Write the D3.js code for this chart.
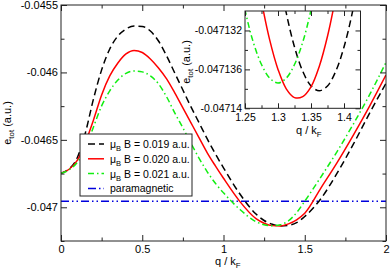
<!DOCTYPE html>
<html>
<head>
<meta charset="utf-8">
<script src="https://cdn.jsdelivr.net/npm/d3@7"></script>
<style>
body { margin: 0; background: #fff; }
svg { display: block; font-family: "Liberation Sans", Arial, sans-serif; }
</style>
</head>
<body>
<svg id="chart" width="390" height="272"></svg>
<script>
// q / k_F grid of the main panel
const qGrid = [0, 0.05, 0.1, 0.15, 0.2, 0.25, 0.3, 0.35, 0.4, 0.45, 0.5, 0.55, 0.6, 0.65, 0.7, 0.75,
    0.8, 0.85, 0.9, 0.95, 1.0, 1.1, 1.2, 1.25, 1.3, 1.35, 1.4, 1.45, 1.5, 1.6, 1.7, 1.8, 1.9, 2.0];

// e_tot (a.u.), one array per field
const eB019 = [-0.046747, -0.046715, -0.046633, -0.046448, -0.046196, -0.045981, -0.045826, -0.045730,
    -0.045678, -0.045656, -0.045659, -0.045693, -0.045767, -0.045878, -0.046004, -0.046130, -0.046256,
    -0.046374, -0.046493, -0.046604, -0.046707, -0.046900, -0.047050, -0.047098, -0.047126, -0.047138,
    -0.047134, -0.047114, -0.047068, -0.046935, -0.046745, -0.046530, -0.046300, -0.046080];
const eB020 = [-0.046747, -0.046718, -0.046652, -0.046519, -0.046352, -0.046167, -0.046026, -0.045930,
    -0.045863, -0.045837, -0.045852, -0.045900, -0.045967, -0.046048, -0.046152, -0.046263, -0.046374,
    -0.046485, -0.046596, -0.046693, -0.046785, -0.046956, -0.047084, -0.047118, -0.047136, -0.047138,
    -0.047123, -0.047093, -0.047045, -0.046856, -0.046667, -0.046463, -0.046248, -0.046019];
const eB021 = [-0.046747, -0.046722, -0.046667, -0.046563, -0.046404, -0.046248, -0.046137, -0.046056,
    -0.046007, -0.045989, -0.045996, -0.046026, -0.046085, -0.046181, -0.046300, -0.046411, -0.046526,
    -0.046637, -0.046737, -0.046822, -0.046893, -0.047015, -0.047107, -0.047130, -0.047137, -0.047130,
    -0.047100, -0.047040, -0.046955, -0.046774, -0.046585, -0.046381, -0.046163, -0.045926];
const eParamagnetic = -0.046955;

// inset: zoom on the minimum
const insetQ = [1.2375, 1.25, 1.2625, 1.275, 1.2875, 1.3, 1.3125, 1.325, 1.3375, 1.35, 1.3625,
    1.375, 1.3875, 1.4, 1.4125, 1.425, 1.4375];
const insetB019 = [-0.0470882, -0.0470977, -0.0471062, -0.0471137, -0.0471202, -0.0471257, -0.0471302,
    -0.0471337, -0.0471362, -0.0471377, -0.0471382, -0.0471377, -0.0471362, -0.0471337, -0.0471302,
    -0.0471257, -0.0471202];
const insetB020 = [-0.0471111, -0.0471181, -0.0471241, -0.0471290, -0.0471330, -0.0471360, -0.0471380,
    -0.0471389, -0.0471388, -0.0471378, -0.0471357, -0.0471326, -0.0471285, -0.0471234, -0.0471173,
    -0.0471102, -0.0471020];
const insetB021 = [-0.0471257, -0.0471299, -0.0471332, -0.0471355, -0.0471369, -0.0471374, -0.0471369,
    -0.0471355, -0.0471332, -0.0471299, -0.0471257, -0.0471205, -0.0471144, -0.0471074, -0.0470994,
    -0.0470905, -0.0470807];

const fieldLabels = ["0.019", "0.020", "0.021"];

const xTicks = [0, 0.5, 1, 1.5, 2];
const xMinor = [0.25, 0.75, 1.25, 1.75];
const yTicks = [-0.047, -0.0465, -0.046, -0.0455];
const yMinor = [-0.04725, -0.04675, -0.04625, -0.04575];
const insetXTicks = [1.25, 1.3, 1.35, 1.4];
const insetXMinor = [1.275, 1.325, 1.375];
const insetYTicks = [-0.04714, -0.047136, -0.047132];
const insetYMinor = [-0.047138, -0.047134];

const styles = [
    { color: "#000000", dash: "7,4" },
    { color: "#ff0000", dash: null },
    { color: "#11ee11", dash: "6,3,1.5,3" }
];
const paraStyle = { color: "#0000dd", dash: "8,3,1.5,3,1.5,3" };

const svg = d3.select("#chart");

function drawAxes(g, x, y, o) {
    const [x0, x1] = x.range();
    const [y0, y1] = y.range();
    const sides = [
        [d3.axisBottom, x, `translate(0,${y0})`, o.xTicks, o.xMinor, true, o.padX],
        [d3.axisTop, x, `translate(0,${y1})`, o.xTicks, o.xMinor, false, 0],
        [d3.axisLeft, y, `translate(${x0},0)`, o.yTicks, o.yMinor, true, o.padY],
        [d3.axisRight, y, `translate(${x1},0)`, o.yTicks, o.yMinor, false, 0]
    ];
    sides.forEach(([make, s, tr, maj, min, labels, pad]) => {
        const a = g.append("g").attr("transform", tr);
        a.call(make(s).tickValues(maj).tickSize(-o.major).tickPadding(pad)
            .tickFormat(labels ? (d => String(d)) : ""));
        a.append("g").call(make(s).tickValues(min).tickSize(-o.minor).tickFormat(""));
        a.selectAll(".domain").remove();
        a.selectAll("line").attr("stroke", "#222");
        a.attr("font-size", o.fontSize).attr("font-family", null);
        a.selectAll("text").attr("fill", "#000");
    });
    g.append("rect")
        .attr("x", x0).attr("y", y1).attr("width", x1 - x0).attr("height", y0 - y1)
        .attr("fill", "none").attr("stroke", "#222").attr("stroke-width", 1);
}

function subLabel(g, parts, attrs) {
    const t = g.append("text").attr("font-size", attrs.size).attr("fill", "#000");
    Object.entries(attrs.at).forEach(([k, v]) => t.attr(k, v));
    parts.forEach(([txt, sub]) => {
        const sp = t.append("tspan").text(txt);
        if (sub) sp.attr("font-size", attrs.size * 0.72).attr("dy", 3);
        else if (t.selectAll("tspan").size() > 1) sp.attr("dy", -3);
    });
    return t;
}

// ---- main panel ----
const x = d3.scaleLinear().domain([0, 2]).range([61, 386]);
const y = d3.scaleLinear().domain([-0.04725, -0.0455]).range([241, 5]);

svg.append("clipPath").attr("id", "clipMain")
    .append("rect").attr("x", 61).attr("y", 5).attr("width", 325).attr("height", 236);

const main = svg.append("g");
const plot = main.append("g").attr("clip-path", "url(#clipMain)");

const line = d3.line().x(d => x(d[0])).y(d => y(d[1])).curve(d3.curveMonotoneX);

plot.append("line")
    .attr("x1", x(0)).attr("x2", x(2)).attr("y1", y(eParamagnetic)).attr("y2", y(eParamagnetic))
    .attr("stroke", paraStyle.color).attr("stroke-width", 1.5).attr("stroke-dasharray", paraStyle.dash);

[eB019, eB020, eB021].forEach((vals, i) => {
    plot.append("path")
        .datum(qGrid.map((q, j) => [q, vals[j]]))
        .attr("d", line)
        .attr("fill", "none")
        .attr("stroke", styles[i].color)
        .attr("stroke-width", 1.5)
        .attr("stroke-dasharray", styles[i].dash);
});

drawAxes(main, x, y, {
    xTicks, xMinor, yTicks, yMinor, major: 6, minor: 3.5, padX: 4, padY: 3, fontSize: 11
});

subLabel(main, [["q / k"], ["F", true]], { size: 11, at: { x: 215, y: 265 } });
subLabel(main, [["e"], ["tot", true], [" (a.u.)"]],
    { size: 11, at: { transform: "translate(11,123) rotate(-90)", "text-anchor": "middle" } });

// legend
const leg = main.append("g");
leg.append("rect").attr("x", 80).attr("y", 134).attr("width", 112).attr("height", 62)
    .attr("fill", "#fff").attr("stroke", "#222");
const legRows = fieldLabels.map((f, i) => ({ label: f, style: styles[i] }))
    .concat([{ label: null, style: paraStyle }]);
legRows.forEach((r, i) => {
    const ly = 144 + i * 14.8;
    leg.append("line").attr("x1", 88).attr("x2", 104).attr("y1", ly).attr("y2", ly)
        .attr("stroke", r.style.color).attr("stroke-width", 1.5)
        .attr("stroke-dasharray", r.style.dash);
    if (r.label) {
        subLabel(leg, [["μ"], ["B", true], [` B = ${r.label} a.u.`]], { size: 10.5, at: { x: 110, y: ly + 4 } });
    } else {
        leg.append("text").attr("x", 110).attr("y", ly + 4).attr("font-size", 10.5).text("paramagnetic");
    }
});

// ---- inset ----
const ix = d3.scaleLinear().domain([1.25, 1.425]).range([245, 360.5]);
const iy = d3.scaleLinear().domain([-0.04714, -0.04713]).range([108.3, 11]);

svg.append("clipPath").attr("id", "clipInset")
    .append("rect").attr("x", 245).attr("y", 11).attr("width", 115.5).attr("height", 97.3);

const inset = svg.append("g");
inset.append("rect").attr("x", 245).attr("y", 11).attr("width", 115.5).attr("height", 97.3).attr("fill", "#fff");
const iplot = inset.append("g").attr("clip-path", "url(#clipInset)");
const iline = d3.line().x(d => ix(d[0])).y(d => iy(d[1])).curve(d3.curveCatmullRom);

[insetB019, insetB020, insetB021].forEach((vals, i) => {
    iplot.append("path")
        .datum(insetQ.map((q, j) => [q, vals[j]]))
        .attr("d", iline)
        .attr("fill", "none")
        .attr("stroke", styles[i].color)
        .attr("stroke-width", 1.5)
        .attr("stroke-dasharray", styles[i].dash);
});

drawAxes(inset, ix, iy, {
    xTicks: insetXTicks, xMinor: insetXMinor, yTicks: insetYTicks, yMinor: insetYMinor,
    major: 5, minor: 3, padX: 5, padY: 3, fontSize: 10.5
});

subLabel(inset, [["q / k"], ["F", true]], { size: 11, at: { x: 296, y: 134 } });
subLabel(inset, [["e"], ["tot", true], [" (a.u.)"]],
    { size: 11, at: { transform: "translate(190,62) rotate(-90)", "text-anchor": "middle" } });
</script>
</body>
</html>
